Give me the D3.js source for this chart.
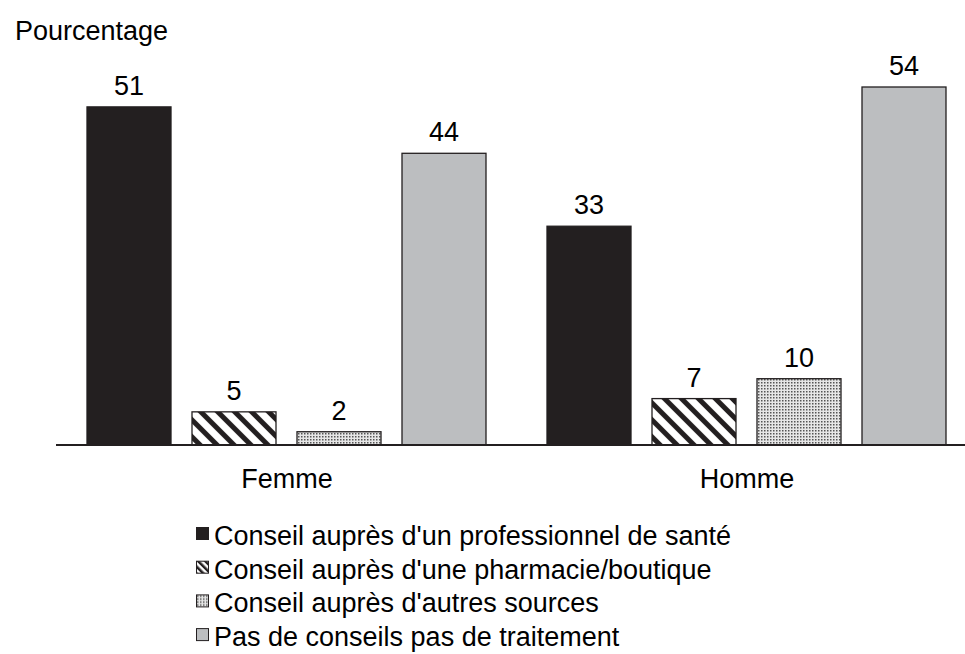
<!DOCTYPE html>
<html>
<head>
<meta charset="utf-8">
<script src="https://cdn.jsdelivr.net/npm/d3@7"></script>
<style>
  html, body { margin: 0; padding: 0; background: #fff; }
  svg { display: block; font-family: "Liberation Sans", Arial, sans-serif; }
</style>
</head>
<body>
<svg id="chart" width="965" height="654"></svg>
<script>
// Categories, series and values (percent)
const groups = ["Femme", "Homme"];
const seriesNames = [
  "Conseil auprès d'un professionnel de santé",
  "Conseil auprès d'une pharmacie/boutique",
  "Conseil auprès d'autres sources",
  "Pas de conseils pas de traitement"
];
const femmeValues = [51, 5, 2, 44];
const hommeValues = [33, 7, 10, 54];
const yAxisTitle = "Pourcentage";

const valuesByGroup = { Femme: femmeValues, Homme: hommeValues };
const FONT = 27;

const svg = d3.select("#chart");
const defs = svg.append("defs");

// Diagonal stripes running from top-left to bottom-right
const stripe = defs.append("pattern")
  .attr("id", "stripes")
  .attr("patternUnits", "userSpaceOnUse")
  .attr("width", 12).attr("height", 12)
  .attr("patternTransform", "rotate(-45)");
stripe.append("rect").attr("width", 12).attr("height", 12).attr("fill", "#fff");
stripe.append("rect").attr("x", 0).attr("width", 5).attr("height", 12).attr("fill", "#231f20");

// Fine dot screen
const dots = defs.append("pattern")
  .attr("id", "dots")
  .attr("patternUnits", "userSpaceOnUse")
  .attr("width", 3).attr("height", 3);
dots.append("rect").attr("width", 3).attr("height", 3).attr("fill", "#e6e6e6");
dots.append("rect").attr("x", 1).attr("y", 1).attr("width", 1.5).attr("height", 1.5).attr("fill", "#555");

// Legend-sized stripes
const stripeSmall = defs.append("pattern")
  .attr("id", "stripesSmall")
  .attr("patternUnits", "userSpaceOnUse")
  .attr("width", 5).attr("height", 5)
  .attr("patternTransform", "rotate(-45)");
stripeSmall.append("rect").attr("width", 5).attr("height", 5).attr("fill", "#fff");
stripeSmall.append("rect").attr("width", 2.5).attr("height", 5).attr("fill", "#231f20");

const fills = ["#231f20", "url(#stripes)", "url(#dots)", "#bcbec0"];
const legendFills = ["#231f20", "url(#stripesSmall)", "url(#dots)", "#bcbec0"];

// Scales
const x0 = d3.scaleBand().domain(groups).range([57, 977]).padding(0);
const x1 = d3.scaleBand().domain(d3.range(seriesNames.length))
  .range([30, 429]).paddingInner(0.2).paddingOuter(0);
const y = d3.scaleLinear().domain([0, 54]).range([445, 87]);

// Bars with value labels
const g = svg.append("g");
groups.forEach(grp => {
  const gg = g.append("g").attr("transform", `translate(${x0(grp)},0)`);
  const vals = valuesByGroup[grp].map((v, i) => ({ v, i }));
  gg.selectAll("rect.bar").data(vals).join("rect")
    .attr("class", "bar")
    .attr("x", d => x1(d.i))
    .attr("y", d => y(d.v))
    .attr("width", x1.bandwidth())
    .attr("height", d => y(0) - y(d.v))
    .attr("fill", d => fills[d.i])
    .attr("stroke", "#231f20")
    .attr("stroke-width", 1.3);
  gg.selectAll("text.val").data(vals).join("text")
    .attr("class", "val")
    .attr("x", d => x1(d.i) + x1.bandwidth() / 2)
    .attr("y", d => y(d.v) - 12)
    .attr("text-anchor", "middle")
    .attr("font-size", FONT)
    .attr("fill", "#000")
    .text(d => d.v);
});

// Baseline
svg.append("line")
  .attr("x1", 56).attr("x2", 965)
  .attr("y1", y(0)).attr("y2", y(0))
  .attr("stroke", "#231f20").attr("stroke-width", 2);

// Category axis labels
const xAxis = d3.axisBottom(x0).tickSize(0).tickPadding(24);
const axG = svg.append("g").attr("transform", `translate(0,${y(0)})`).call(xAxis);
axG.select(".domain").remove();
axG.selectAll("text").attr("font-size", FONT).attr("fill", "#000")
  .attr("font-family", "Liberation Sans, Arial, sans-serif");

// Y axis title
svg.append("text")
  .attr("x", 15).attr("y", 40)
  .attr("font-size", FONT).attr("fill", "#000")
  .text(yAxisTitle);

// Legend
const legend = svg.append("g").attr("transform", "translate(196,527)");
seriesNames.forEach((name, i) => {
  const row = legend.append("g").attr("transform", `translate(0,${i * 33.7})`);
  row.append("rect")
    .attr("x", 0.5).attr("y", 0.5).attr("width", 12).attr("height", 12)
    .attr("fill", legendFills[i])
    .attr("stroke", "#231f20").attr("stroke-width", 1);
  row.append("text")
    .attr("x", 18).attr("y", 18)
    .attr("font-size", FONT).attr("fill", "#000")
    .text(name);
});
</script>
</body>
</html>
